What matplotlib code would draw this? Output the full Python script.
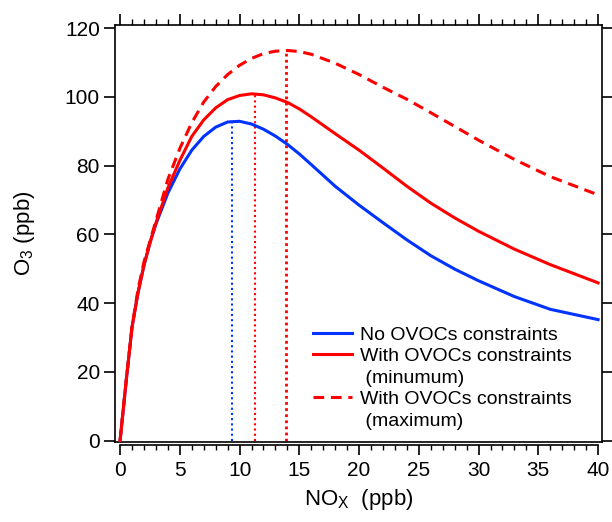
import matplotlib
matplotlib.use("Agg")
import matplotlib.pyplot as plt
from matplotlib.lines import Line2D
from matplotlib.ticker import MultipleLocator

plt.rcParams['font.family'] = ['Liberation Sans', 'DejaVu Sans']
plt.rcParams['mathtext.fontset'] = 'custom'
plt.rcParams['mathtext.rm'] = 'Liberation Sans'
plt.rcParams['mathtext.default'] = 'regular'

# NOx (ppb) grid
nox = [0, 0.5, 1, 1.5, 2, 2.5, 3, 4, 5, 6, 7, 8, 9, 10, 11, 12, 13, 14, 15, 16,
       18, 20, 22, 24, 26, 28, 30, 33, 36, 40]

# O3 (ppb) for each case
o3_no_ovoc = [0, 17, 33, 43, 51, 57.5, 63, 72, 79, 84.5, 88.5, 91.2, 92.7, 92.9, 92.1, 90.6,
              88.6, 86.2, 83.4, 80.3, 74, 68.5, 63.4, 58.4, 53.8, 49.9, 46.5, 41.9, 38.2, 35.2]
o3_ovoc_min = [0, 17, 33, 43, 51, 57.5, 63.3, 73.5, 81.5, 88.5, 93.3, 96.8, 99.2, 100.4, 100.9, 100.6,
               99.7, 98.4, 96.5, 94.2, 89.3, 84.5, 79.3, 74.0, 69.1, 64.8, 60.9, 55.7, 51.2, 45.9]
o3_ovoc_max = [0, 17, 33, 44, 52, 58, 64, 76, 85, 92.5, 98.5, 103, 106.5, 109.2, 111.2, 112.6,
               113.3, 113.5, 113.2, 112.4, 109.8, 106.5, 102.8, 99.3, 95.4, 91.4, 87.4, 81.8, 76.8, 71.5]

# NOx at the O3 peak of each case
peak_nox = [9.4, 11.3, 13.9]
peak_o3 = [93, 101, 113.5]

labels = ['No OVOCs constraints', 'With OVOCs constraints', ' (minumum)',
          'With OVOCs constraints', ' (maximum)']

blue = '#0033ff'
red = '#ff0000'

fig = plt.figure(figsize=(6.12, 5.22), dpi=100)
ax = fig.add_axes([0.188, 0.1533, 0.7957, 0.7987])

l1, = ax.plot(nox, o3_no_ovoc, color=blue, lw=2.2, zorder=3)
l2, = ax.plot(nox, o3_ovoc_min, color=red, lw=2.2, zorder=3)
l3, = ax.plot(nox, o3_ovoc_max, color=red, lw=2.2, ls=(0, (3.5, 2.2)), zorder=3)

ax.plot([peak_nox[0]] * 2, [0, peak_o3[0]], color=blue, lw=1.5, ls=(0, (1, 1.5)))
ax.plot([peak_nox[1]] * 2, [0, peak_o3[1]], color=red, lw=1.5, ls=(0, (1, 1.5)))
ax.plot([peak_nox[2]] * 2, [0, peak_o3[2]], color=red, lw=2.0, ls=(0, (1, 1.2)))

ax.set_xlim(-0.42, 40.33)
ax.set_ylim(-0.4, 120.9)

for s in ax.spines.values():
    s.set_linewidth(1.2)

# left / right / top ticks
ax.yaxis.set_major_locator(MultipleLocator(20))
ax.tick_params(axis='y', which='major', direction='out', length=8, width=1.2,
               labelsize=15, right=True, pad=3)
ax.xaxis.set_major_locator(MultipleLocator(5))
ax.xaxis.set_minor_locator(MultipleLocator(1))
ax.tick_params(axis='x', which='major', direction='out', length=8, width=1.2,
               top=True, bottom=False, labelbottom=False)
ax.tick_params(axis='x', which='minor', direction='out', length=4, width=1.0,
               top=True, bottom=False)
ax.set_ylabel('O$_3$ (ppb)', fontsize=16, labelpad=20)

# offset bottom axis
sec = ax.secondary_xaxis(-0.008)
sec.set_xticks(range(0, 41, 5))
sec.xaxis.set_minor_locator(MultipleLocator(1))
sec.spines['bottom'].set_bounds(0, 40)
sec.spines['bottom'].set_linewidth(1.2)
sec.tick_params(which='major', direction='out', length=7, width=1.2, labelsize=15, pad=4)
sec.tick_params(which='minor', direction='out', length=3.5, width=1.0)
sec.set_xlabel('NO$_X$  (ppb)', fontsize=16, labelpad=5)

blank = Line2D([], [], color='none')
ax.legend([l1, l2, blank, l3, blank], labels, loc='lower left',
          bbox_to_anchor=(0.374, -0.008), frameon=False, fontsize=14,
          handlelength=2.0, handletextpad=0.41, labelspacing=0.2, borderpad=0.3)

fig.savefig('out.png', dpi=100)
